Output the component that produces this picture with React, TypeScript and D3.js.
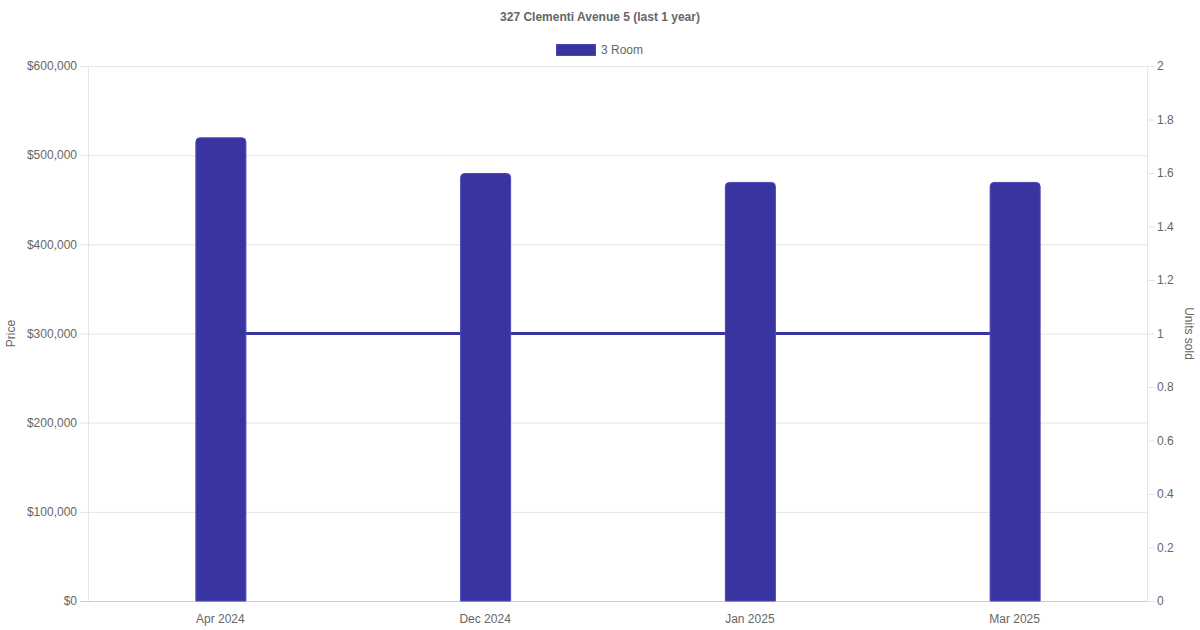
import { useEffect, useRef } from 'react';
import * as d3 from 'd3';

const months = ['Apr 2024', 'Dec 2024', 'Jan 2025', 'Mar 2025'];
const prices = [520000, 480000, 470000, 470000];
const unitsSold = [1, 1, 1, 1];
const priceTicks = [0, 100000, 200000, 300000, 400000, 500000, 600000];
const unitTicks = [0, 0.2, 0.4, 0.6, 0.8, 1, 1.2, 1.4, 1.6, 1.8, 2];

const W = 1200;
const H = 630;
const FONT = '"Liberation Sans", Arial, Helvetica, sans-serif';
const BAR = '#3835a0';
const GRID = '#e5e5e5';
const TEXT = '#666';

export default function App() {
    const svgRef = useRef<SVGSVGElement>(null);

    useEffect(() => {
        if (!svgRef.current) return;
        const svg = d3.select(svgRef.current);
        svg.selectAll('*').remove();

        const left = 88, right = 1147, top = 66, bottom = 601;

        const x = d3.scaleBand().domain(months).range([left, right]);
        const yPrice = d3.scaleLinear().domain([0, 600000]).range([bottom, top]);
        const yUnits = d3.scaleLinear().domain([0, 2]).range([bottom, top]);

        // grid
        svg.append('g')
            .selectAll('line')
            .data(priceTicks)
            .join('line')
            .attr('x1', left - 8)
            .attr('x2', right)
            .attr('y1', d => yPrice(d) + 0.5)
            .attr('y2', d => yPrice(d) + 0.5)
            .attr('stroke', d => (d === 0 ? '#ccc' : GRID))
            .attr('stroke-width', 1);

        // right axis ticks
        svg.append('g')
            .selectAll('line')
            .data(unitTicks)
            .join('line')
            .attr('x1', right)
            .attr('x2', right + 8)
            .attr('y1', d => yUnits(d) + 0.5)
            .attr('y2', d => yUnits(d) + 0.5)
            .attr('stroke', GRID);

        // vertical axis borders
        svg.append('line')
            .attr('x1', left + 0.5).attr('x2', left + 0.5)
            .attr('y1', top).attr('y2', bottom)
            .attr('stroke', GRID);
        svg.append('line')
            .attr('x1', right + 0.5).attr('x2', right + 0.5)
            .attr('y1', top).attr('y2', bottom)
            .attr('stroke', GRID);

        // line (units sold), behind bars
        const line = d3.line<number>()
            .x((_, i) => (x(months[i]) || 0) + x.bandwidth() / 2)
            .y(d => yUnits(d));
        svg.append('path')
            .datum(unitsSold)
            .attr('fill', 'none')
            .attr('stroke', BAR)
            .attr('stroke-width', 3)
            .attr('d', line);

        // bars
        const barW = 50;
        const r = 4;
        svg.append('g')
            .selectAll('path')
            .data(prices)
            .join('path')
            .attr('d', (d, i) => {
                const cx = (x(months[i]) || 0) + x.bandwidth() / 2 + 0.5;
                const x0 = cx - barW / 2, x1 = cx + barW / 2;
                const y0 = yPrice(d) + 0.5, y1 = bottom;
                return `M${x0},${y1}V${y0 + r}Q${x0},${y0} ${x0 + r},${y0}H${x1 - r}Q${x1},${y0} ${x1},${y0 + r}V${y1}Z`;
            })
            .attr('fill', BAR)
            .attr('stroke', '#4a47b8')
            .attr('stroke-width', 1);

        // left tick labels
        svg.append('g')
            .selectAll('text')
            .data(priceTicks)
            .join('text')
            .attr('x', left - 11)
            .attr('y', d => yPrice(d))
            .attr('dy', '0.35em')
            .attr('text-anchor', 'end')
            .attr('font-family', FONT)
            .attr('font-size', 12)
            .attr('fill', TEXT)
            .text(d => '$' + d3.format(',')(d));

        // right tick labels
        svg.append('g')
            .selectAll('text')
            .data(unitTicks)
            .join('text')
            .attr('x', right + 10)
            .attr('y', d => yUnits(d))
            .attr('dy', '0.35em')
            .attr('text-anchor', 'start')
            .attr('font-family', FONT)
            .attr('font-size', 12)
            .attr('fill', TEXT)
            .text(d => String(+d.toFixed(1)));

        // x labels
        svg.append('g')
            .selectAll('text')
            .data(months)
            .join('text')
            .attr('x', d => (x(d) || 0) + x.bandwidth() / 2)
            .attr('y', 619)
            .attr('dy', '0.35em')
            .attr('text-anchor', 'middle')
            .attr('font-family', FONT)
            .attr('font-size', 12)
            .attr('fill', TEXT)
            .text(d => d);

        // axis titles
        svg.append('text')
            .attr('transform', `translate(11,${(top + bottom) / 2}) rotate(-90)`)
            .attr('dy', '0.35em')
            .attr('text-anchor', 'middle')
            .attr('font-family', FONT)
            .attr('font-size', 12)
            .attr('fill', TEXT)
            .text('Price');
        svg.append('text')
            .attr('transform', `translate(1189,${(top + bottom) / 2}) rotate(90)`)
            .attr('dy', '0.35em')
            .attr('text-anchor', 'middle')
            .attr('font-family', FONT)
            .attr('font-size', 12)
            .attr('fill', TEXT)
            .text('Units sold');

        // title
        svg.append('text')
            .attr('x', W / 2)
            .attr('y', 17)
            .attr('dy', '0.35em')
            .attr('text-anchor', 'middle')
            .attr('font-family', FONT)
            .attr('font-size', 12)
            .attr('font-weight', 'bold')
            .attr('fill', TEXT)
            .text('327 Clementi Avenue 5 (last 1 year)');

        // legend
        svg.append('rect')
            .attr('x', 556.5).attr('y', 44.5)
            .attr('width', 39).attr('height', 11)
            .attr('fill', BAR)
            .attr('stroke', '#4a47b8');
        svg.append('text')
            .attr('x', 601)
            .attr('y', 50)
            .attr('dy', '0.35em')
            .attr('font-family', FONT)
            .attr('font-size', 12)
            .attr('fill', TEXT)
            .text('3 Room');
    }, []);

    return (
        <svg
            ref={svgRef}
            width={W}
            height={H}
            style={{ position: 'absolute', left: 0, top: 0, background: '#fff' }}
        />
    );
}
